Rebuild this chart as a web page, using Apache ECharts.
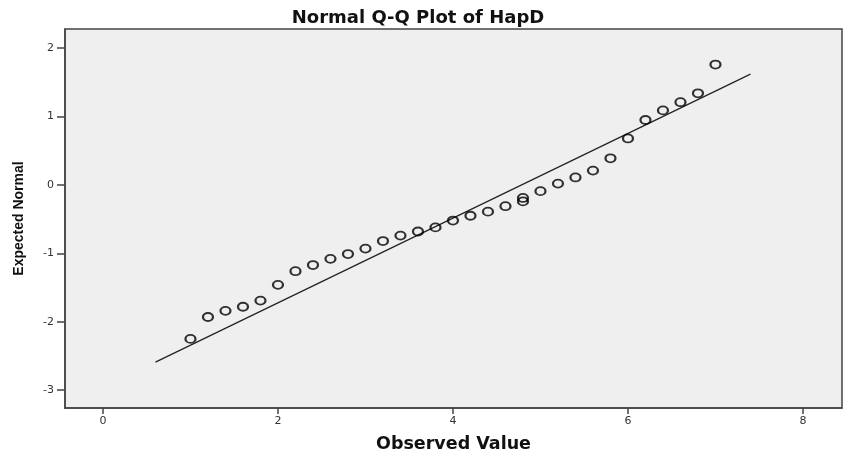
<!DOCTYPE html>
<html>
<head>
<meta charset="utf-8">
<script src="https://cdn.jsdelivr.net/npm/echarts@6/dist/echarts.min.js"></script>
<style>
html,body{margin:0;padding:0;background:#fff;}
#chart{width:854px;height:458px;}
</style>
</head>
<body>
<div id="chart"></div>
<script>
// Observed values (x) and expected normal values (y)
var observed = [1.0, 1.2, 1.4, 1.6, 1.8, 2.0, 2.2, 2.4, 2.6, 2.8, 3.0, 3.2, 3.4, 3.6, 3.8, 4.0, 4.2, 4.4, 4.6, 4.8, 4.8, 5.0, 5.2, 5.4, 5.6, 5.8, 6.0, 6.2, 6.4, 6.6, 6.8, 7.0];
var expected = [-2.25, -1.93, -1.84, -1.78, -1.69, -1.46, -1.26, -1.17, -1.08, -1.01, -0.93, -0.82, -0.74, -0.68, -0.62, -0.52, -0.45, -0.39, -0.31, -0.24, -0.19, -0.09, 0.02, 0.11, 0.21, 0.39, 0.68, 0.95, 1.09, 1.21, 1.34, 1.76];
// Reference line endpoints
var lineX = [0.6, 7.4];
var lineY = [-2.59, 1.62];
var xTicks = [0, 2, 4, 6, 8];
var yTicks = [-3, -2, -1, 0, 1, 2];

var pts = observed.map(function (x, i) { return [x, expected[i]]; });
var linePts = lineX.map(function (x, i) { return [x, lineY[i]]; });

var chart = echarts.init(document.getElementById('chart'), null, {renderer: 'canvas'});
chart.setOption({
  animation: false,
  backgroundColor: '#ffffff',
  title: {
    text: 'Normal Q-Q Plot of HapD',
    left: 413,
    textAlign: 'center',
    top: 4,
    textStyle: {fontFamily: 'DejaVu Sans, Verdana, sans-serif', fontWeight: 'bold', fontSize: 18, color: '#111'}
  },
  grid: {
    left: 65, top: 29, right: 12, bottom: 49,
    show: true, backgroundColor: '#efefef', borderColor: '#444', borderWidth: 1.5,
    containLabel: false
  },
  xAxis: {
    type: 'value', min: -0.434, max: 8.446,
    name: 'Observed Value', nameLocation: 'middle', nameGap: 27,
    nameTextStyle: {fontFamily: 'DejaVu Sans, Verdana, sans-serif', fontWeight: 'bold', fontSize: 17.5, color: '#111'},
    axisLine: {show: true, onZero: false, lineStyle: {color: '#444', width: 1.5}},
    axisTick: {show: true, length: 6, customValues: xTicks, lineStyle: {color: '#444', width: 1.5}},
    axisLabel: {customValues: xTicks, margin: 8, fontFamily: 'DejaVu Sans, sans-serif', fontSize: 11, color: '#333'},
    splitLine: {show: false}
  },
  yAxis: {
    type: 'value', min: -3.26, max: 2.28,
    name: 'Expected Normal', nameLocation: 'middle', nameGap: 39, nameRotate: 90,
    nameTextStyle: {fontFamily: 'Liberation Sans Narrow, Arial Narrow, Liberation Sans, sans-serif', fontWeight: 'bold', fontSize: 14, color: '#111'},
    axisLine: {show: true, onZero: false, lineStyle: {color: '#444', width: 1.5}},
    axisTick: {show: true, length: 8, customValues: yTicks, lineStyle: {color: '#444', width: 1.5}},
    axisLabel: {customValues: yTicks, margin: 11, fontFamily: 'DejaVu Sans, sans-serif', fontSize: 11, color: '#333'},
    splitLine: {show: false}
  },
  series: [
    {
      type: 'line', data: linePts, symbol: 'none',
      lineStyle: {color: '#222', width: 1.2}, silent: true, z: 2
    },
    {
      type: 'scatter', data: pts, symbol: 'circle', symbolSize: [10, 8],
      itemStyle: {color: 'rgba(0,0,0,0)', borderColor: '#000', borderWidth: 2}, z: 3
    }
  ]
});
</script>
</body>
</html>
